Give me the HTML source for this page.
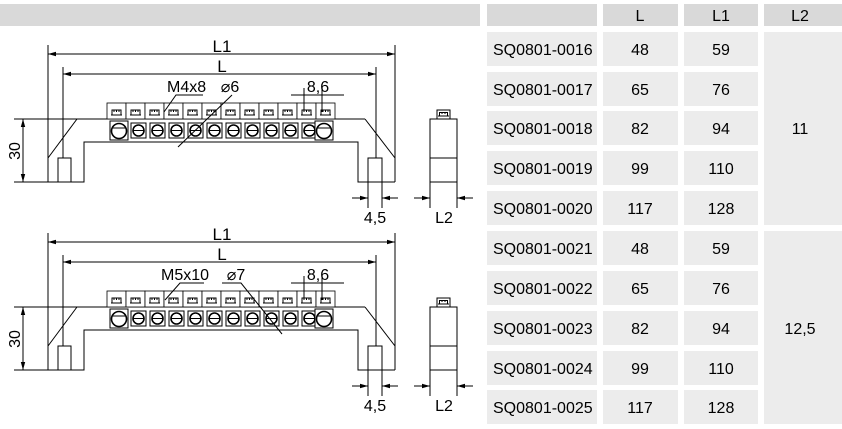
<!DOCTYPE html>
<html><head><meta charset="utf-8"><style>
html,body{margin:0;padding:0;background:#fff;width:842px;height:429px;overflow:hidden;font-family:"Liberation Sans",sans-serif}
</style></head><body>
<svg width="842" height="429" viewBox="0 0 842 429" xmlns="http://www.w3.org/2000/svg" font-family="Liberation Sans, sans-serif">
<defs>
<marker id="a" markerWidth="8" markerHeight="6" refX="8" refY="3" orient="auto-start-reverse" markerUnits="userSpaceOnUse"><path d="M0,0.8 L8,3 L0,5.2z" fill="#000"/></marker>
<g id="cap"><rect x="0" y="0" width="19" height="16" fill="#fff" stroke="#000" stroke-width="0.8"/><path d="M5,12 V7 H14 V12 M7,7 V9 M9.5,7 V9 M12,7 V9 M4,12 H15" fill="none" stroke="#000" stroke-width="1"/></g>
<g id="hole"><rect x="0" y="0" width="15" height="15" fill="#fff" stroke="#000" stroke-width="1"/><circle cx="7.5" cy="7.5" r="5.5" fill="none" stroke="#000" stroke-width="1.6"/><line x1="2.5" y1="7.5" x2="12.5" y2="7.5" stroke="#000" stroke-width="1"/></g>
<g id="big"><rect x="0" y="0" width="18" height="19" fill="#fff" stroke="#000" stroke-width="1"/><circle cx="9" cy="10" r="7.5" fill="none" stroke="#000" stroke-width="1.6"/><line x1="2.5" y1="7" x2="15.5" y2="7" stroke="#000" stroke-width="1"/></g>
<g id="bar" fill="none" stroke="#000" stroke-width="1">
<line x1="14" y1="119" x2="365" y2="119"/>
<line x1="77" y1="119" x2="48" y2="158"/><line x1="365" y1="119" x2="395" y2="158"/>
<path d="M14,182 H84 V142 H358 V182 H395"/>
<line x1="48" y1="45" x2="48" y2="182"/><line x1="395" y1="45" x2="395" y2="182"/>
<line x1="63" y1="67" x2="63" y2="158"/><line x1="376" y1="67" x2="376" y2="158"/>
<rect x="58" y="158" width="13" height="24"/><rect x="368" y="158" width="14" height="24"/>
<line x1="48" y1="54" x2="395" y2="54" marker-start="url(#a)" marker-end="url(#a)"/>
<line x1="63" y1="74" x2="376" y2="74" marker-start="url(#a)" marker-end="url(#a)"/>
<line x1="23" y1="119" x2="23" y2="182" marker-start="url(#a)" marker-end="url(#a)"/>
<line x1="368" y1="182" x2="368" y2="208"/><line x1="382" y1="182" x2="382" y2="208"/>
<line x1="352" y1="198" x2="368" y2="198" marker-end="url(#a)"/><line x1="398" y1="198" x2="382" y2="198" marker-end="url(#a)"/>
<rect x="430" y="119" width="27" height="63"/><line x1="430" y1="158" x2="457" y2="158"/>
<line x1="430" y1="182" x2="430" y2="208"/><line x1="457" y1="182" x2="457" y2="208"/>
<line x1="414" y1="198" x2="430" y2="198" marker-end="url(#a)"/><line x1="473" y1="198" x2="457" y2="198" marker-end="url(#a)"/>
<line x1="291" y1="95" x2="344" y2="95"/>
<rect x="437" y="110" width="13" height="9"/>
<path d="M439.5,116 V112.5 H447.5 V116 M442,112.5 V114 M445,112.5 V114 M438,116 H449"/>
</g>
<g id="block">
<use href="#cap" x="107" y="103"/><use href="#cap" x="126" y="103"/><use href="#cap" x="145" y="103"/><use href="#cap" x="164" y="103"/><use href="#cap" x="183" y="103"/><use href="#cap" x="202" y="103"/><use href="#cap" x="221" y="103"/><use href="#cap" x="240" y="103"/><use href="#cap" x="259" y="103"/><use href="#cap" x="278" y="103"/><use href="#cap" x="297" y="103"/><use href="#cap" x="316" y="103"/>
<use href="#big" x="110" y="121"/><use href="#hole" x="131" y="123"/><use href="#hole" x="150" y="123"/><use href="#hole" x="169" y="123"/><use href="#hole" x="188" y="123"/><use href="#hole" x="207" y="123"/><use href="#hole" x="226" y="123"/><use href="#hole" x="245" y="123"/><use href="#hole" x="264" y="123"/><use href="#hole" x="283" y="123"/><use href="#hole" x="302" y="123"/><use href="#big" x="315" y="121"/>
<g stroke="#000" stroke-width="1"><line x1="304" y1="88" x2="304" y2="112"/><line x1="322" y1="88" x2="322" y2="112"/></g>
</g>
<g font-size="17" text-anchor="middle" fill="#000" id="labels">
<text x="222" y="52">L1</text><text x="222" y="72">L</text><text x="318" y="92" font-size="16">8,6</text>
<text x="375" y="223" font-size="16">4,5</text><text x="444" y="223" font-size="16">L2</text>
<text transform="translate(20,151) rotate(-90)" font-size="16">30</text>
</g>
</defs>
<rect x="0" y="4" width="480" height="22" fill="#d9d9d9"/>
<use href="#bar"/><use href="#block"/><use href="#labels"/>
<text x="167" y="92" font-size="16">M4x8</text>
<text x="230" y="92" font-size="16" text-anchor="middle">⌀6</text>
<g stroke="#000" stroke-width="1" fill="none"><path d="M203,95 H176 L164,112"/><path d="M232,95 L178,147"/></g>
<g transform="translate(0,188)">
<use href="#bar"/><use href="#block"/><use href="#labels"/>
<text x="161" y="92" font-size="16">M5x10</text>
<text x="236" y="92" font-size="16" text-anchor="middle">⌀7</text>
<g stroke="#000" stroke-width="1" fill="none"><path d="M204,95 H180 L165,112"/><path d="M222,95 H241 L282,146"/></g>
</g>
<g font-size="16" text-anchor="middle" fill="#000">
<rect x="487" y="4" width="110" height="22" fill="#d9d9d9"/>
<rect x="603" y="4" width="75" height="22" fill="#d9d9d9"/><text x="640" y="21">L</text>
<rect x="684" y="4" width="74" height="22" fill="#d9d9d9"/><text x="721" y="21">L1</text>
<rect x="764" y="4" width="78" height="22" fill="#d9d9d9"/><text x="800" y="21">L2</text>
<rect x="764" y="32" width="78" height="193" fill="#ececec"/><text x="800" y="134">11</text>
<rect x="764" y="231" width="78" height="193" fill="#ececec"/><text x="800" y="334">12,5</text>
</g>
<g font-size="16" fill="#000">
<g fill="#ececec">
<rect x="487" y="32" width="110" height="34"/><rect x="603" y="32" width="75" height="34"/><rect x="684" y="32" width="74" height="34"/>
<rect x="487" y="72" width="110" height="34"/><rect x="603" y="72" width="75" height="34"/><rect x="684" y="72" width="74" height="34"/>
<rect x="487" y="111" width="110" height="34"/><rect x="603" y="111" width="75" height="34"/><rect x="684" y="111" width="74" height="34"/>
<rect x="487" y="151" width="110" height="34"/><rect x="603" y="151" width="75" height="34"/><rect x="684" y="151" width="74" height="34"/>
<rect x="487" y="191" width="110" height="34"/><rect x="603" y="191" width="75" height="34"/><rect x="684" y="191" width="74" height="34"/>
<rect x="487" y="231" width="110" height="34"/><rect x="603" y="231" width="75" height="34"/><rect x="684" y="231" width="74" height="34"/>
<rect x="487" y="271" width="110" height="34"/><rect x="603" y="271" width="75" height="34"/><rect x="684" y="271" width="74" height="34"/>
<rect x="487" y="311" width="110" height="34"/><rect x="603" y="311" width="75" height="34"/><rect x="684" y="311" width="74" height="34"/>
<rect x="487" y="351" width="110" height="34"/><rect x="603" y="351" width="75" height="34"/><rect x="684" y="351" width="74" height="34"/>
<rect x="487" y="390" width="110" height="34"/><rect x="603" y="390" width="75" height="34"/><rect x="684" y="390" width="74" height="34"/>
</g>
<g>
<text x="493" y="55">SQ0801-0016</text><text x="493" y="95">SQ0801-0017</text><text x="493" y="134">SQ0801-0018</text><text x="493" y="174">SQ0801-0019</text><text x="493" y="214">SQ0801-0020</text>
<text x="493" y="254">SQ0801-0021</text><text x="493" y="294">SQ0801-0022</text><text x="493" y="334">SQ0801-0023</text><text x="493" y="374">SQ0801-0024</text><text x="493" y="413">SQ0801-0025</text>
</g>
<g text-anchor="middle">
<text x="640" y="55">48</text><text x="640" y="95">65</text><text x="640" y="134">82</text><text x="640" y="174">99</text><text x="640" y="214">117</text>
<text x="640" y="254">48</text><text x="640" y="294">65</text><text x="640" y="334">82</text><text x="640" y="374">99</text><text x="640" y="413">117</text>
<text x="721" y="55">59</text><text x="721" y="95">76</text><text x="721" y="134">94</text><text x="721" y="174">110</text><text x="721" y="214">128</text>
<text x="721" y="254">59</text><text x="721" y="294">76</text><text x="721" y="334">94</text><text x="721" y="374">110</text><text x="721" y="413">128</text>
</g>
</g>
</svg>
</body></html>
